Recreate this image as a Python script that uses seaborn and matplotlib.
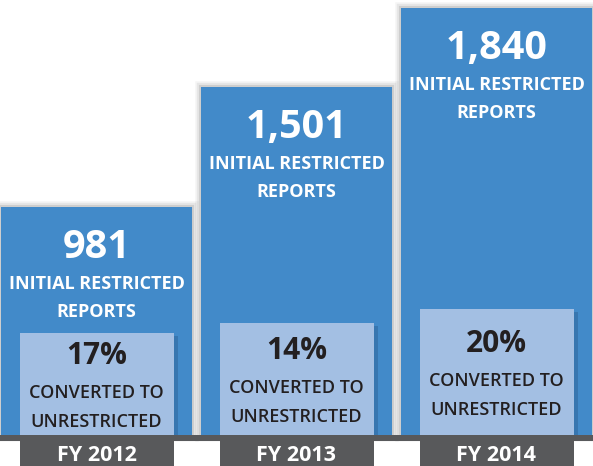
import matplotlib
matplotlib.use("Agg")
import matplotlib.pyplot as plt
import matplotlib.patheffects as pe
import seaborn as sns
import pandas as pd

# ---- data ----
years = ["FY 2012", "FY 2013", "FY 2014"]
reports = [981, 1501, 1840]
report_labels = ["981", "1,501", "1,840"]
converted_pct = ["17%", "14%", "20%"]
inner_box_tops = [440, 483, 543]   # decorative inner box heights (data units)

BLUE = "#428AC9"
LIGHT = "#A3BFE3"
DARK_TXT = "#231F20"
GRAY = "#58595B"

sns.set_theme(style="white")
plt.rcParams["font.family"] = ["Open Sans", "DejaVu Sans"]

df = pd.DataFrame({"year": years, "reports": reports})

fig = plt.figure(figsize=(5.93, 4.66), dpi=100)
ax = fig.add_axes([0, 0, 1, 1])

sns.barplot(data=df, x="year", y="reports", ax=ax, color=BLUE, saturation=1,
            width=0.955, linewidth=0, edgecolor=BLUE)
soft_shadow = [pe.Stroke(linewidth=9, foreground="#000000", alpha=0.04),
               pe.Stroke(linewidth=6, foreground="#000000", alpha=0.06),
               pe.Stroke(linewidth=3, foreground="#000000", alpha=0.10),
               pe.Normal()]
for p in ax.patches:
    p.set_path_effects(soft_shadow)

vmax = max(reports)
ax.set_xlim(-0.4825, 2.4825)
ax.set_ylim(-vmax * 31 / 427, vmax * (1 + 8 / 427))
ax.set_axis_off()

pos = list(range(len(years)))
s_unit = vmax / 427  # data units per pixel

# inner light boxes
inner = ax.bar(pos, inner_box_tops, width=0.77, color=LIGHT, linewidth=0, zorder=3)
for p in inner:
    p.set_path_effects([pe.SimplePatchShadow(offset=(3, -2), shadow_rgbFace="#2a5f93", alpha=0.45),
                        pe.Normal()])

# baseline strip and label boxes
ax.axhspan(-6 * s_unit, 0, color=GRAY, zorder=5, lw=0)
ax.bar(pos, [-(6 * s_unit) + 200 * s_unit] * 3, bottom=-200 * s_unit, width=0.77,
       color=GRAY, linewidth=0, zorder=5)

for i, (v, lab, pct, top, yr) in enumerate(zip(reports, report_labels, converted_pct,
                                              inner_box_tops, years)):
    ax.annotate(lab, (i, v), xytext=(0, -51), textcoords="offset pixels",
                ha="center", va="baseline", color="white", fontsize=28.5,
                fontweight="bold", zorder=6)
    ax.annotate("INITIAL RESTRICTED", (i, v), xytext=(0, -82), textcoords="offset pixels",
                ha="center", va="baseline", color="white", fontsize=13,
                fontweight="bold", zorder=6)
    ax.annotate("REPORTS", (i, v), xytext=(0, -110), textcoords="offset pixels",
                ha="center", va="baseline", color="white", fontsize=13,
                fontweight="bold", zorder=6)
    mid = top / 2
    ax.annotate(pct, (i, mid), xytext=(0, 20), textcoords="offset pixels",
                ha="center", va="baseline", color=DARK_TXT, fontsize=21.5,
                fontweight="bold", zorder=6)
    ax.annotate("CONVERTED TO", (i, mid), xytext=(0, -14), textcoords="offset pixels",
                ha="center", va="baseline", color=DARK_TXT, fontsize=13,
                fontweight=600, zorder=6)
    ax.annotate("UNRESTRICTED", (i, mid), xytext=(0, -43), textcoords="offset pixels",
                ha="center", va="baseline", color=DARK_TXT, fontsize=13,
                fontweight=600, zorder=6)
    ax.text(i, 5 / 466, yr, transform=ax.get_xaxis_transform(), ha="center",
            va="baseline", color="white", fontsize=15.5, fontweight="bold", zorder=7)

fig.savefig("out.png", dpi=100)
